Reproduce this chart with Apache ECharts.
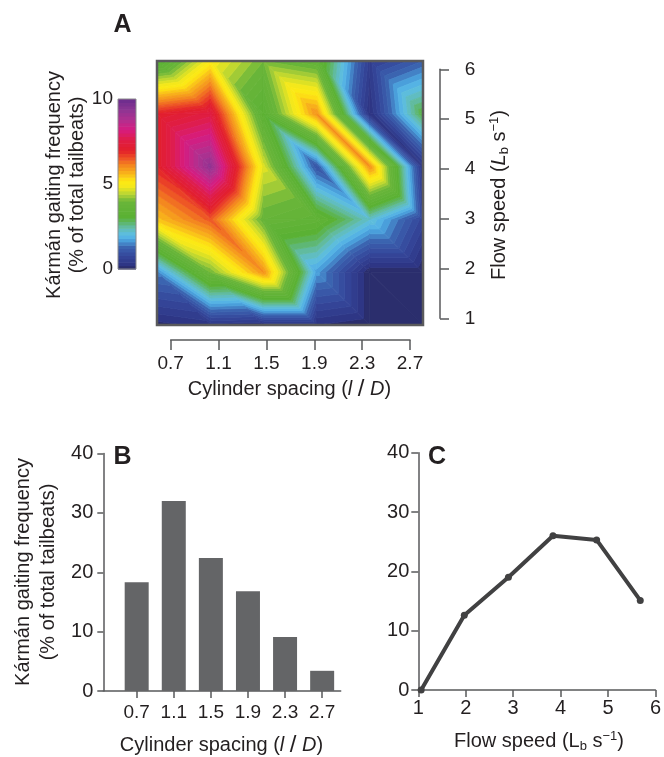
<!DOCTYPE html>
<html><head><meta charset="utf-8">
<script src="https://cdn.jsdelivr.net/npm/echarts@6/dist/echarts.min.js"></script>
<style>html,body{margin:0;padding:0;background:#fff}#c{width:664px;height:757px}</style>
</head><body><div id="c"></div>
<script>
// ---------------- data ----------------
const spacingValues = [0.7, 1.1, 1.5, 1.9, 2.3, 2.7];      // cylinder spacing l/D
const flowSpeedValues = [1, 2, 3, 4, 5, 6];                // flow speed (Lb s-1)
// Kármán gaiting frequency (%), one row per flow speed (1 -> 6), columns by spacing
const gatingFlow1 = [0.1, 0.3, 0.2, 0.2, 0.0, 0.0];
const gatingFlow2 = [1.5, 4.0, 6.0, 1.7, 0.0, 0.0];
const gatingFlow3 = [5.5, 6.5, 3.8, 3.5, 2.2, 0.7];
const gatingFlow4 = [7.0, 9.3, 4.7, 1.0, 6.0, 0.3];
const gatingFlow5 = [7.0, 7.5, 3.2, 6.0, 0.2, 3.0];
const gatingFlow6 = [3.0, 5.0, 4.0, 3.6, 0.5, 1.2];
const gatingGrid = [gatingFlow1, gatingFlow2, gatingFlow3, gatingFlow4, gatingFlow5, gatingFlow6];
const colorBarTicks = [0, 5, 10];
// panel B
const spacingBarValues = [18.3, 32.0, 22.4, 16.8, 9.1, 3.4];
// panel C
const flowSpeedMeasured = [1.06, 1.97, 2.90, 3.84, 4.76, 5.68];
const gatingByFlow = [0.0, 12.6, 19.0, 26.0, 25.3, 15.1];

// ---------------- style ----------------
const FONT = "'Liberation Sans', Arial, Helvetica, sans-serif";
const NARROW = "'Liberation Sans Narrow', 'Liberation Sans', Arial, sans-serif";
const TXT = '#231f20';
const AX = '#58595b';
const LEVEL_STEP = 0.2, LEVEL_MAX = 10;
const colorStops = [
  [0.0,'#29295a'],[0.2,'#2d3280'],[0.8,'#35479b'],[1.3,'#3b64b0'],[1.7,'#4a9fdb'],
  [2.0,'#5bbde9'],[2.4,'#62bdb4'],[2.8,'#5db560'],[3.1,'#5ab134'],[4.0,'#6ab53a'],
  [4.4,'#b3d335'],[4.85,'#f2e81c'],[5.2,'#fee912'],[5.6,'#f9b91a'],[6.1,'#f4881f'],
  [6.6,'#ec4b26'],[7.0,'#e21f2a'],[7.6,'#df1d45'],[8.2,'#d71c80'],[8.8,'#b0308f'],
  [9.4,'#8c3593'],[10,'#6a2d8d']
];
function hex2rgb(h){return [parseInt(h.slice(1,3),16),parseInt(h.slice(3,5),16),parseInt(h.slice(5,7),16)];}
function colorAt(v){
  if (v <= colorStops[0][0]) return colorStops[0][1];
  for (let i=1;i<colorStops.length;i++){
    if (v <= colorStops[i][0]){
      const a=colorStops[i-1], b=colorStops[i];
      const t=(v-a[0])/(b[0]-a[0]);
      const ca=hex2rgb(a[1]), cb=hex2rgb(b[1]);
      const c=ca.map((x,k)=>Math.round(x+(cb[k]-x)*t));
      return 'rgb('+c.join(',')+')';
    }
  }
  return colorStops[colorStops.length-1][1];
}
const nBands = Math.round(LEVEL_MAX/LEVEL_STEP);
const bandColors = [];
for (let k=0;k<nBands;k++) bandColors.push(colorAt((k+0.5)*LEVEL_STEP));

// polygon clipping on a linear field (points [x,y,v])
function clip(poly, level, keepAbove){
  const out=[];
  for (let i=0;i<poly.length;i++){
    const P=poly[i], Q=poly[(i+1)%poly.length];
    const pin = keepAbove ? P[2]>=level : P[2]<=level;
    const qin = keepAbove ? Q[2]>=level : Q[2]<=level;
    if (pin) out.push(P);
    if (pin!==qin){
      const t=(level-P[2])/(Q[2]-P[2]);
      out.push([P[0]+(Q[0]-P[0])*t, P[1]+(Q[1]-P[1])*t, level]);
    }
  }
  return out;
}
function bandPolys(tri, children){
  const vs=tri.map(p=>p[2]);
  const vmin=Math.min(...vs), vmax=Math.max(...vs);
  for (let k=0;k<nBands;k++){
    const lo=k*LEVEL_STEP, hi=(k+1)*LEVEL_STEP;
    if (hi < vmin || lo > vmax) continue;
    let p = k===0 ? tri : clip(tri, lo, true);
    if (p.length<3) continue;
    p = k===nBands-1 ? p : clip(p, hi, false);
    if (p.length<3) continue;
    children.push({type:'polygon', shape:{points:p.map(q=>[q[0],q[1]])},
      style:{fill:bandColors[k], stroke:bandColors[k], lineWidth:0.8}});
  }
}

const cellData = [];
for (let r=0;r<flowSpeedValues.length-1;r++)
  for (let c=0;c<spacingValues.length-1;c++)
    cellData.push([spacingValues[c], flowSpeedValues[r], c, r]);

function renderCell(params, api){
  const c=api.value(2), r=api.value(3);
  const pt=(ci,ri)=>{const p=api.coord([spacingValues[ci], flowSpeedValues[ri]]); return [p[0],p[1],gatingGrid[ri][ci]];};
  const BL=pt(c,r), BR=pt(c+1,r), TL=pt(c,r+1), TR=pt(c+1,r+1);
  const children=[];
  bandPolys([TL,TR,BR], children);
  bandPolys([TL,BL,BR], children);
  return {type:'group', children};
}
const bandData = [];
for (let k=0;k<nBands;k++) bandData.push([0, k*LEVEL_STEP, k]);
function renderBand(params, api){
  const k=api.value(2);
  const p0=api.coord([0,k*LEVEL_STEP]), p1=api.coord([1,(k+1)*LEVEL_STEP]);
  return {type:'rect', shape:{x:p0[0], y:p1[1], width:p1[0]-p0[0], height:p0[1]-p1[1]+0.6},
    style:{fill:bandColors[k]}};
}

const hidden = {show:false};
const axLine = {show:true, lineStyle:{color:AX, width:1.5}};
const label = (extra)=>Object.assign({color:TXT, fontSize:19, fontFamily:FONT}, extra||{});

const richBase = {
  it:{fontStyle:'italic', fontSize:20, fontFamily:FONT, lineHeight:26},
  sub:{fontSize:13, fontFamily:FONT, lineHeight:26, padding:[10,0,0,0]},
  sup:{fontSize:13, fontFamily:FONT, lineHeight:26, padding:[0,0,10,0]},
  sl:{fontSize:24, fontFamily:FONT, lineHeight:26}
};
function txt(x, y, text, opts){
  opts=opts||{};
  return {type:'text', x, y, rotation: opts.rot||0, z:100,
    style:{text, fill:TXT, fontSize: opts.size||20, fontFamily:FONT, fontWeight: opts.bold?'bold':'normal',
      align:'center', verticalAlign:'middle', lineHeight:26, rich: richBase}};
}

const option = {
  animation:false,
  backgroundColor:'#fff',
  grid:[
    {left:157, top:61, width:266, height:264},        // 0 contour box
    {left:170.7, top:320, width:239.3, height:20},    // 1 A x axis
    {left:440, top:69.3, width:10.7, height:249},     // 2 A y axis
    {left:118, top:99, width:18, height:170},         // 3 colour bar
    {left:103.3, top:453.5, width:237.4, height:237.5}, // 4 panel B
    {left:418.3, top:452.7, width:241, height:237.3}  // 5 panel C
  ],
  xAxis:[
    {gridIndex:0, type:'value', min:spacingValues[0], max:spacingValues[5], show:false},
    {gridIndex:1, type:'value', min:0.7, max:2.7, interval:0.4, position:'bottom',
      axisLine:axLine, axisTick:{show:true, length:10, lineStyle:{color:AX, width:1.5}},
      axisLabel:label({margin:14}), splitLine:hidden},
    {gridIndex:2, type:'value', show:false},
    {gridIndex:3, type:'value', min:0, max:1, show:false},
    {gridIndex:4, type:'value', min:0.34, max:2.9,
      axisLine:axLine,
      axisTick:{show:true, length:7, customValues:spacingValues, lineStyle:{color:AX, width:1.5}},
      axisLabel:label({margin:12, customValues:spacingValues, fontFamily:NARROW, formatter:v=>v.toFixed(1)}),
      splitLine:hidden},
    {gridIndex:5, type:'value', min:1, max:6, interval:1,
      axisLine:axLine, axisTick:{show:true, length:7, lineStyle:{color:AX, width:1.5}},
      axisLabel:label({margin:8, fontSize:20}), splitLine:hidden}
  ],
  yAxis:[
    {gridIndex:0, type:'value', min:flowSpeedValues[0], max:flowSpeedValues[5], show:false},
    {gridIndex:1, type:'value', show:false},
    {gridIndex:2, type:'value', min:1, max:6, interval:1, position:'right',
      axisLine:axLine, axisTick:{show:true, length:9, lineStyle:{color:AX, width:1.5}},
      axisLabel:label({margin:14}), splitLine:hidden},
    {gridIndex:3, type:'value', min:0, max:10, interval:5, position:'left',
      axisLine:{show:false}, axisTick:{show:false}, axisLabel:label({margin:5}), splitLine:hidden},
    {gridIndex:4, type:'value', min:0, max:40, interval:10,
      axisLine:axLine, axisTick:{show:true, length:6, lineStyle:{color:AX, width:1.5}},
      axisLabel:label({margin:10, fontSize:20}), splitLine:hidden},
    {gridIndex:5, type:'value', min:0, max:40, interval:10,
      axisLine:axLine, axisTick:{show:true, length:7, lineStyle:{color:AX, width:1.5}},
      axisLabel:label({margin:9, fontSize:20}), splitLine:hidden}
  ],
  series:[
    {type:'custom', xAxisIndex:0, yAxisIndex:0, data:cellData, renderItem:renderCell,
      encode:{x:0, y:1}, clip:true, silent:true},
    {type:'custom', xAxisIndex:3, yAxisIndex:3, data:bandData, renderItem:renderBand,
      encode:{x:0, y:1}, silent:true},
    {type:'bar', xAxisIndex:4, yAxisIndex:4, barWidth:24,
      data:spacingValues.map((s,i)=>[s, spacingBarValues[i]]),
      itemStyle:{color:'#646567'}, silent:true},
    {type:'line', xAxisIndex:5, yAxisIndex:5, clip:false, z:5,
      data:flowSpeedMeasured.map((f,i)=>[f, gatingByFlow[i]]),
      symbol:'circle', symbolSize:7, showSymbol:true,
      lineStyle:{color:'#414142', width:4}, itemStyle:{color:'#414142'}, silent:true}
  ],
  graphic:[
    {type:'rect', shape:{x:157, y:61, width:266, height:264}, z:99,
      style:{fill:'none', stroke:'#5a5a5c', lineWidth:2.5}},
    {type:'rect', shape:{x:118, y:99, width:18, height:170}, z:99,
      style:{fill:'none', stroke:'#8a8a8c', lineWidth:1}},
    txt(122.5, 25, 'A', {bold:true, size:25}),
    txt(122.5, 457, 'B', {bold:true, size:25}),
    txt(437, 457, 'C', {bold:true, size:25}),
    txt(54, 185, 'Kármán gaiting frequency', {rot:Math.PI/2}),
    txt(77, 185, '(% of total tailbeats)', {rot:Math.PI/2}),
    txt(23, 572, 'Kármán gaiting frequency', {rot:Math.PI/2}),
    txt(48, 572, '(% of total tailbeats)', {rot:Math.PI/2}),
    txt(499, 195, 'Flow speed ({it|L}{sub|b} s{sup|−1})', {rot:Math.PI/2}),
    txt(289.5, 389, 'Cylinder spacing ({it|l} {sl|/} {it|D})'),
    txt(221.5, 745, 'Cylinder spacing ({it|l} {sl|/} {it|D})'),
    txt(539, 741, 'Flow speed (L{sub|b} s{sup|−1})')
  ]
};
const chart = echarts.init(document.getElementById('c'), null, {renderer:'canvas'});
chart.setOption(option);
</script>
</body></html>
